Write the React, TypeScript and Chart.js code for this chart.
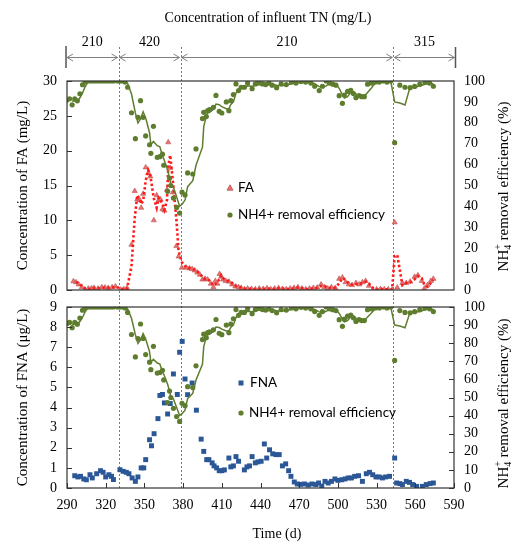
import React, { useEffect, useRef } from "react";
import { Chart, registerables } from "chart.js";
Chart.register(...registerables);

const SERIF = '"Liberation Serif", "Times New Roman", serif';
const SANS = 'Lato, "Liberation Sans", sans-serif';
const GREEN = "#5e7d2e";
const RED_LINE = "#ff1a1a";
const TRI_FILL = "#e27474";
const TRI_EDGE = "#c0504d";
const BLUE = "#2b5797";

// ---- data ----
const effDays = [290,292,294,296,298,300,302,304,306,308,310,312,314,316,318,320,322,324,326,329,331,333,335,337,340,343,345,347,349,351,354,355,357,360,362,364,365,368,369.5,370.5,372.5,375,377.3,379.2,381.5,383.5,387.5,390,395,396,398,399,400.5,403.5,405.5,408,410,413.5,415.5,417,419,421,423,425,427.5,430,433.5,436,438.5,441.5,444,446.5,449,452.5,456,460,464,467.5,471.5,475,479,482,485.5,488,491,493.5,496,498.5,501,503.5,505,507.5,510,512,514,516.5,518.5,520.5,523,526,529,532,535,538,541,544,548,552,556,559.5,563.5,567.5,571,574];
const effValues = [90.9,91.5,88.6,91.5,90.5,93.9,98.2,99.6,100,100,100,100,100,100,100,100,100,100,100,100,100,100,99.5,97,84.8,72.4,82.6,90.6,82.6,73.7,69.5,65.4,78.3,63.5,63.8,65,59.7,47.2,53.6,50,44,39.5,36.8,46.8,45.5,56,55.5,67.5,82,85,83,85.8,86.3,87.4,93.1,85.5,84.7,90,85.8,90.6,93.5,98.6,95.4,97,97,99,96.3,98.6,99.5,98.6,98.3,99,98,96.8,98.6,98.3,99.5,99,99.8,99.5,99,97.5,95.4,97.5,100,99,98.5,98,93,89.3,93.3,95,95.5,94,92,93,92.5,92.5,98.5,99,99.5,99.5,100,99.5,100,70.5,98,97,96.8,97.4,98.5,99.4,99,97.5];

const faDays = [295,297,299,301.5,304,306.5,309,311,314,317,319.5,322,325,327.5,331.5,334,336.5,340,342.5,344.5,346.5,347.5,349,351,353,354.5,357.3,359.5,361,362.5,364,365.5,367.5,368.5,370,372,374.8,376.5,379,382.5,385,387,389,391,393,395,397,399,401.5,403.5,405,406.5,408.3,409.5,411,413,415.5,418,420.5,423,425,427.5,430,433,436,439,442,445,448,451,454,457,460,463,466,469,472,475,478,481,484,487,489.5,492,495,498,501,503.5,506,508.5,511,514,516.5,519,521.5,524,527,530,533,536,539,542,544,546,550,553,556,559.5,562,565,567,569.5,572,574];
const faValues = [1.25,1.1,0.8,0.4,0.05,0.2,0.25,0.3,0.2,0.4,0.35,0.3,0.4,0.5,0.05,0.1,0.3,6.5,14.2,13.0,12.9,11.8,13.8,17.6,16.8,16.3,10.0,13.6,12.9,13.0,11.6,11.4,14.4,21.2,17.5,14.0,6.3,4.8,3.2,3.2,3.1,3.0,2.8,2.5,2.2,1.5,1.6,1.5,0.9,0.4,1.3,0.9,2.3,1.9,1.5,1.3,1.2,0.8,0.5,0.4,0.3,0.1,0.2,0.15,0.1,0.2,0.15,0.25,0.1,0.2,0.3,0.15,0.1,0.2,0.3,0.4,0.2,0.1,0.2,0.3,0.35,0.8,0.4,0.2,0.4,0.3,1.6,1.8,1.1,0.8,0.7,1.0,0.8,1.1,1.3,0.6,0.05,0.1,0.15,0.1,0.1,0.05,9.7,0.35,1.0,1.0,1.2,1.9,2.1,1.3,0.2,0.7,1.3,1.6];

const fnaDays = [296,298.5,300.5,303,305,307.8,309.6,313,316,318,320,322.5,324.5,326,331,333.5,336,338,340.5,343,345,347.5,349.5,351,354,355.5,357.5,360.5,362,364,365.5,368,370,372.5,375.5,377.3,379.3,381.5,383.5,387,390.3,394,396,398.3,400,402.5,404,406,408,410,412,415.5,417,419,421,423,427.5,429.5,431.5,433.5,436,438,440.5,443,444.8,447,449.5,452,454.5,457,459.5,461.8,463.6,466.2,468.5,471,474,477,480,483,485,487.5,490,492.5,495,497.7,500,503,505.5,508,510.5,513,516,519,522,524.5,527,529.5,532,534.5,537,540,544,545.5,548,550,553,555.5,558,561,565.5,568.5,571.5,574];
const fnaValues = [0.61,0.55,0.58,0.45,0.41,0.66,0.5,0.71,0.86,0.78,0.55,0.66,0.58,0.42,0.91,0.83,0.78,0.71,0.5,0.33,0.55,1.0,1.0,1.41,2.4,2.1,2.7,3.45,4.6,4.65,4.23,3.68,4.2,5.67,4.65,6.75,7.29,5.42,4.64,5.22,3.87,2.43,1.82,1.41,1.41,1.25,1.1,1.0,0.86,0.86,0.9,1.49,1.05,1.1,1.56,1.33,0.9,1.05,1.1,1.56,1.25,1.3,1.33,2.19,1.49,1.9,1.7,1.66,1.66,1.1,1.2,0.86,0.58,0.3,0.2,0.18,0.2,0.15,0.2,0.17,0.25,0.1,0.33,0.25,0.33,0.45,0.38,0.41,0.45,0.5,0.5,0.58,0.61,0.33,0.71,0.78,0.66,0.55,0.55,0.5,0.55,0.58,1.49,0.25,0.22,0.17,0.33,0.28,0.17,0.08,0.08,0.17,0.22,0.25];

const phaseBoundaries = [330, 378, 543];
const phaseLabels = ["210", "420", "210", "315"];
const faTicks = [0, 5, 10, 15, 20, 25, 30];
const fnaTicks = [0, 1, 2, 3, 4, 5, 6, 7, 8, 9];
const effTicks = [0, 10, 20, 30, 40, 50, 60, 70, 80, 90, 100];
const timeTicks = [290, 320, 350, 380, 410, 440, 470, 500, 530, 560, 590];

const TOP_H = 298;
const BOT_H = 247;
const W = 514;

function pts(xs: number[], ys: number[]) {
  return xs.map((x, i) => ({ x, y: ys[i] }));
}
function movingAvg(xs: number[], ys: number[], n: number) {
  const out: { x: number; y: number }[] = [];
  for (let i = n - 1; i < ys.length; i++) {
    let s = 0;
    for (let k = i - n + 1; k <= i; k++) s += ys[k];
    out.push({ x: xs[i], y: s / n });
  }
  return out;
}

function drawRotated(ctx: CanvasRenderingContext2D, text: string, cx: number, cy: number, size: number) {
  ctx.save();
  ctx.translate(cx, cy);
  ctx.rotate(-Math.PI / 2);
  ctx.font = `${size}px ${SERIF}`;
  ctx.fillStyle = "#000";
  ctx.textAlign = "center";
  ctx.textBaseline = "middle";
  ctx.fillText(text, 0, 0);
  ctx.restore();
}

function drawNH4Title(ctx: CanvasRenderingContext2D, cx: number, cy: number, size: number) {
  ctx.save();
  ctx.translate(cx, cy);
  ctx.rotate(-Math.PI / 2);
  const main = `${size}px ${SERIF}`;
  const small = `${Math.round(size * 0.65)}px ${SERIF}`;
  ctx.font = main;
  const wNH = ctx.measureText("NH").width;
  const rest = " removal efficiency (%)";
  const wRest = ctx.measureText(rest).width;
  ctx.font = small;
  const wS = Math.max(ctx.measureText("4").width, ctx.measureText("+").width);
  const total = wNH + wS + wRest;
  let x = -total / 2;
  ctx.fillStyle = "#000";
  ctx.textAlign = "left";
  ctx.textBaseline = "middle";
  ctx.font = main;
  ctx.fillText("NH", x, 0);
  x += wNH;
  ctx.font = small;
  ctx.fillText("4", x, size * 0.32);
  ctx.fillText("+", x, -size * 0.36);
  x += wS;
  ctx.font = main;
  ctx.fillText(rest, x, 0);
  ctx.restore();
}

function drawBorder(ctx: CanvasRenderingContext2D, a: any) {
  ctx.save();
  ctx.strokeStyle = "#333";
  ctx.lineWidth = 1.2;
  ctx.setLineDash([]);
  ctx.strokeRect(a.left, a.top, a.right - a.left, a.bottom - a.top);
  ctx.restore();
}

function drawYTicks(ctx: CanvasRenderingContext2D, scale: any, vals: number[], x: number, dir: number) {
  ctx.save();
  ctx.strokeStyle = "#333";
  ctx.lineWidth = 1;
  for (const v of vals) {
    const y = Math.round(scale.getPixelForValue(v)) + 0.5;
    ctx.beginPath();
    ctx.moveTo(x, y);
    ctx.lineTo(x + dir * 5, y);
    ctx.stroke();
  }
  ctx.restore();
}

function drawDashed(chart: any, y0: number, y1: number) {
  const ctx = chart.ctx;
  const xs = chart.scales.x;
  ctx.save();
  ctx.strokeStyle = "#7a7a7a";
  ctx.lineWidth = 1;
  ctx.setLineDash([2, 2]);
  for (const d of phaseBoundaries) {
    const px = Math.round(xs.getPixelForValue(d)) + 0.5;
    ctx.beginPath();
    ctx.moveTo(px, y0);
    ctx.lineTo(px, y1);
    ctx.stroke();
  }
  ctx.restore();
}

function arrowHead(ctx: CanvasRenderingContext2D, x: number, y: number, dir: number) {
  ctx.beginPath();
  ctx.moveTo(x - dir * 6, y - 3.5);
  ctx.lineTo(x, y);
  ctx.lineTo(x - dir * 6, y + 3.5);
  ctx.stroke();
}

function legendTriangle(ctx: CanvasRenderingContext2D, x: number, y: number) {
  ctx.save();
  ctx.fillStyle = TRI_FILL;
  ctx.strokeStyle = TRI_EDGE;
  ctx.lineWidth = 0.8;
  ctx.beginPath();
  ctx.moveTo(x, y - 3.2);
  ctx.lineTo(x + 3, y + 2.2);
  ctx.lineTo(x - 3, y + 2.2);
  ctx.closePath();
  ctx.fill();
  ctx.stroke();
  ctx.restore();
}
function legendCircle(ctx: CanvasRenderingContext2D, x: number, y: number) {
  ctx.save();
  ctx.fillStyle = GREEN;
  ctx.beginPath();
  ctx.arc(x, y, 2.6, 0, Math.PI * 2);
  ctx.fill();
  ctx.restore();
}
function legendSquare(ctx: CanvasRenderingContext2D, x: number, y: number) {
  ctx.save();
  ctx.fillStyle = BLUE;
  ctx.fillRect(x - 2.5, y - 2.5, 5, 5);
  ctx.restore();
}
function legendText(ctx: CanvasRenderingContext2D, text: string, x: number, y: number) {
  ctx.save();
  ctx.font = `13.5px ${SANS}`;
  ctx.fillStyle = "#000";
  ctx.textAlign = "left";
  ctx.textBaseline = "middle";
  ctx.fillText(text, x, y);
  ctx.restore();
}

const topDecor = {
  id: "topDecor",
  beforeDatasetsDraw(chart: any) {
    drawDashed(chart, 47, chart.height);
  },
  afterDraw(chart: any) {
    const ctx: CanvasRenderingContext2D = chart.ctx;
    const a = chart.chartArea;
    drawBorder(ctx, a);
    drawYTicks(ctx, chart.scales.yL, faTicks, a.left, 1);
    drawRotated(ctx, "Concentration of FA (mg/L)", 23, (a.top + a.bottom) / 2, 15);
    drawNH4Title(ctx, 504, (a.top + a.bottom) / 2 + 1, 15);

    // header
    ctx.save();
    ctx.font = `14px ${SERIF}`;
    ctx.fillStyle = "#000";
    ctx.textAlign = "center";
    ctx.textBaseline = "middle";
    ctx.fillText("Concentration of influent TN (mg/L)", 268, 18);
    const xs = chart.scales.x;
    const bounds = [a.left - 1, ...phaseBoundaries.map((d) => xs.getPixelForValue(d)), a.right + 1.5];
    const yA = 57.5;
    ctx.strokeStyle = "#808080";
    ctx.lineWidth = 1;
    for (let i = 0; i < bounds.length - 1; i++) {
      const x0 = bounds[i] + 1;
      const x1 = bounds[i + 1] - 1;
      ctx.beginPath();
      ctx.moveTo(x0, yA);
      ctx.lineTo(x1, yA);
      ctx.stroke();
      arrowHead(ctx, x0, yA, -1);
      arrowHead(ctx, x1, yA, 1);
      ctx.fillText(phaseLabels[i], (bounds[i] + bounds[i + 1]) / 2, 42);
    }
    ctx.strokeStyle = "#555";
    ctx.lineWidth = 1.5;
    ctx.beginPath();
    ctx.moveTo(bounds[0], 46);
    ctx.lineTo(bounds[0], 68);
    ctx.moveTo(bounds[4], 47);
    ctx.lineTo(bounds[4], 68);
    ctx.stroke();
    ctx.restore();

    // legend
    legendTriangle(ctx, 230, 188);
    legendText(ctx, "FA", 238, 188);
    legendCircle(ctx, 230, 215);
    legendText(ctx, "NH4+ removal efficiency", 238, 215);
  },
};

const botDecor = {
  id: "botDecor",
  beforeDatasetsDraw(chart: any) {
    drawDashed(chart, 0, chart.chartArea.bottom);
  },
  afterDraw(chart: any) {
    const ctx: CanvasRenderingContext2D = chart.ctx;
    const a = chart.chartArea;
    drawBorder(ctx, a);
    drawYTicks(ctx, chart.scales.yL, fnaTicks, a.left, 1);
    drawYTicks(ctx, chart.scales.yR, effTicks, a.right, -1);
    const xs = chart.scales.x;
    ctx.save();
    ctx.strokeStyle = "#333";
    ctx.lineWidth = 1;
    for (const t of timeTicks) {
      const px = Math.round(xs.getPixelForValue(t)) + 0.5;
      ctx.beginPath();
      ctx.moveTo(px, a.bottom);
      ctx.lineTo(px, a.bottom - 5);
      ctx.stroke();
    }
    ctx.restore();
    drawRotated(ctx, "Concentration of FNA (\u03bcg/L)", 23, (a.top + a.bottom) / 2, 15);
    drawNH4Title(ctx, 504, (a.top + a.bottom) / 2 + 6, 15);
    ctx.save();
    ctx.font = `14px ${SERIF}`;
    ctx.fillStyle = "#000";
    ctx.textAlign = "center";
    ctx.textBaseline = "middle";
    ctx.fillText("Time (d)", 277, 236);
    ctx.restore();

    legendSquare(ctx, 241, 85);
    legendText(ctx, "FNA", 250, 85);
    legendCircle(ctx, 241, 115);
    legendText(ctx, "NH4+ removal efficiency", 249, 115);
  },
};

function yAxis(pos: "left" | "right", max: number, step: number, width: number) {
  return {
    type: "linear" as const,
    position: pos,
    min: 0,
    max,
    ticks: { stepSize: step, autoSkip: false, color: "#000", font: { family: SERIF, size: 14 }, padding: 10 },
    grid: { display: false, drawTicks: false },
    border: { display: false },
    afterFit: (s: any) => {
      s.width = width;
      s.paddingTop = 0;
      s.paddingBottom = 0;
    },
  };
}

export default function App() {
  const topRef = useRef<HTMLCanvasElement | null>(null);
  const botRef = useRef<HTMLCanvasElement | null>(null);

  useEffect(() => {
    const effPts = pts(effDays, effValues);
    const effMA = movingAvg(effDays, effValues, 3);
    const faPts = pts(faDays, faValues);
    const faMA = movingAvg(faDays, faValues, 2);
    const fnaPts = pts(fnaDays, fnaValues);

    const greenLine = (yID: string) => ({
      label: "eff MA",
      data: effMA,
      yAxisID: yID,
      borderColor: GREEN,
      borderWidth: 1.5,
      pointRadius: 0,
      tension: 0,
    });
    const greenPts = (yID: string) => ({
      label: "NH4+ removal efficiency",
      data: effPts,
      yAxisID: yID,
      showLine: false,
      pointStyle: "circle",
      pointRadius: 2.6,
      pointBackgroundColor: GREEN,
      pointBorderColor: GREEN,
      pointBorderWidth: 0,
    });

    const top = new Chart(topRef.current!, {
      type: "line",
      data: {
        datasets: [
          greenLine("yR") as any,
          greenPts("yR") as any,
          {
            label: "FA MA",
            data: faMA,
            yAxisID: "yL",
            borderColor: RED_LINE,
            borderWidth: 2.6,
            borderDash: [2.4, 2.4],
            pointRadius: 0,
            tension: 0,
          },
          {
            label: "FA",
            data: faPts,
            yAxisID: "yL",
            showLine: false,
            pointStyle: "triangle",
            pointRadius: 3,
            pointBackgroundColor: TRI_FILL,
            pointBorderColor: TRI_EDGE,
            pointBorderWidth: 0.6,
          },
        ],
      },
      options: {
        animation: false,
        responsive: false,
        layout: { padding: { top: 81, bottom: TOP_H - 290, left: 0, right: 0 } },
        plugins: { legend: { display: false }, tooltip: { enabled: false } },
        scales: {
          x: {
            type: "linear",
            min: 290,
            max: 590,
            display: false,
            afterFit: (s: any) => {
              s.paddingLeft = 0;
              s.paddingRight = 0;
            },
          } as any,
          yL: yAxis("left", 30, 5, 67) as any,
          yR: yAxis("right", 100, 10, W - 454) as any,
        },
      },
      plugins: [topDecor],
    });

    const bot = new Chart(botRef.current!, {
      type: "line",
      data: {
        datasets: [
          greenLine("yR") as any,
          greenPts("yR") as any,
          {
            label: "FNA",
            data: fnaPts,
            yAxisID: "yL",
            showLine: false,
            pointStyle: "rect",
            pointRadius: 3.5,
            pointBackgroundColor: BLUE,
            pointBorderColor: BLUE,
            pointBorderWidth: 0,
          },
        ],
      },
      options: {
        animation: false,
        responsive: false,
        layout: { padding: { top: 307 - TOP_H, bottom: 0, left: 0, right: 0 } },
        plugins: { legend: { display: false }, tooltip: { enabled: false } },
        scales: {
          x: {
            type: "linear",
            position: "bottom",
            min: 290,
            max: 590,
            ticks: { stepSize: 30, autoSkip: false, color: "#000", font: { family: SERIF, size: 14 }, padding: 9, maxRotation: 0 },
            grid: { display: false, drawTicks: false },
            border: { display: false },
            afterFit: (s: any) => {
              s.height = TOP_H + BOT_H - 488;
              s.paddingLeft = 0;
              s.paddingRight = 0;
            },
          } as any,
          yL: yAxis("left", 9, 1, 67) as any,
          yR: yAxis("right", 100, 10, W - 454) as any,
        },
      },
      plugins: [botDecor],
    });

    return () => {
      top.destroy();
      bot.destroy();
    };
  }, []);

  return (
    <div style={{ position: "absolute", left: 0, top: 0, width: W, height: TOP_H + BOT_H, background: "#fff" }}>
      <canvas ref={topRef} width={W} height={TOP_H} style={{ position: "absolute", left: 0, top: 0, display: "block" }} />
      <canvas ref={botRef} width={W} height={BOT_H} style={{ position: "absolute", left: 0, top: TOP_H, display: "block" }} />
    </div>
  );
}
